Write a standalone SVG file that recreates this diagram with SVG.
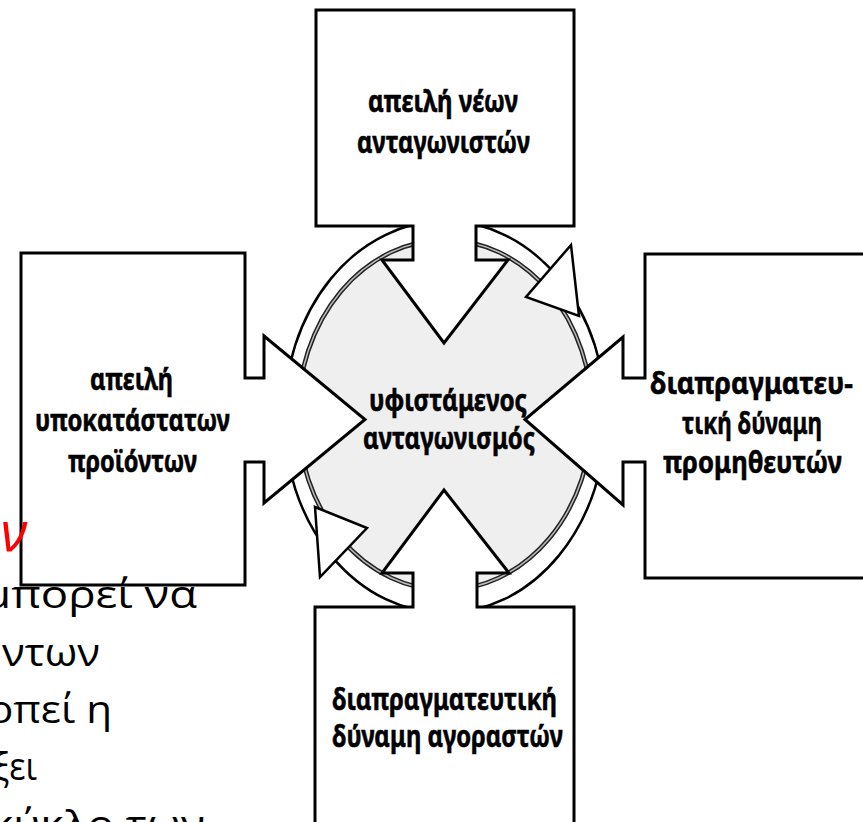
<svg xmlns="http://www.w3.org/2000/svg" width="863" height="822" viewBox="0 0 863 822">
<style>
.box{fill:#fff;stroke:#000;stroke-width:3;stroke-linejoin:miter}
.lbl{font-family:"Noto Sans","Open Sans",sans-serif;font-weight:700;font-size:31px;fill:#000;stroke:#000;stroke-width:0.6;text-anchor:middle}
.ring{fill:#fff;stroke:#000;stroke-width:2.5}
.head{fill:#fff;stroke:#000;stroke-width:2.5;stroke-linejoin:miter}
.bg{font-family:"Open Sans","Liberation Sans",sans-serif;font-size:38px;fill:#000;text-anchor:end}
</style>
<rect width="863" height="822" fill="#fff"/>
<g id="ring">
<ellipse class="ring" cx="445" cy="417" rx="161" ry="196"/>
</g>
<g id="center">
<ellipse cx="445" cy="415" rx="147" ry="175" fill="#efefef" stroke="#222" stroke-width="4.5"/>
<ellipse cx="445" cy="415" rx="147" ry="175" fill="none" stroke="#bbb" stroke-width="1.5"/>
<text class="lbl" x="448" y="411" textLength="158" lengthAdjust="spacingAndGlyphs">υφιστάμενος</text>
<text class="lbl" x="449" y="449" textLength="172" lengthAdjust="spacingAndGlyphs">ανταγωνισμός</text>
</g>
<g id="connectors">
<polygon class="head" points="571,245 526,297 579,316"/>
<polygon class="head" points="315,507 367,528 320,577"/>
</g>
<g id="top">
<polygon class="box" points="316,10 574,10 574,226 476,226 476,260 508,260 444,343 382,260 413,260 413,226 316,226"/>
<text class="lbl" x="443" y="112" textLength="150" lengthAdjust="spacingAndGlyphs">απειλή νέων</text>
<text class="lbl" x="443.5" y="153" textLength="173" lengthAdjust="spacingAndGlyphs">ανταγωνιστών</text>
</g>
<g id="left">
<polygon class="box" points="21,253 245,253 245,378 264,378 264,336 365,419.5 264,503 264,462 245,462 245,585 21,585"/>
<text class="lbl" x="131.5" y="390" textLength="83" lengthAdjust="spacingAndGlyphs">απειλή</text>
<text class="lbl" x="132.5" y="431" textLength="195" lengthAdjust="spacingAndGlyphs">υποκατάστατων</text>
<text class="lbl" x="132.5" y="472" textLength="129" lengthAdjust="spacingAndGlyphs">προϊόντων</text>
</g>
<g id="right">
<polygon class="box" points="645,254 870,254 870,578 645,578 645,462 623,462 623,505 525,419.5 623,337 623,378 645,378"/>
<text class="lbl" x="751.5" y="394" textLength="203" lengthAdjust="spacingAndGlyphs">διαπραγματευ-</text>
<text class="lbl" x="752" y="434" textLength="140" lengthAdjust="spacingAndGlyphs">τική δύναμη</text>
<text class="lbl" x="752.5" y="473" textLength="179" lengthAdjust="spacingAndGlyphs">προμηθευτών</text>
</g>
<g id="bottom">
<polygon class="box" points="315,607 413,607 413,573 382,573 444,490 509,573 477,573 477,607 574,607 574,830 315,830"/>
<text class="lbl" x="444.5" y="710" textLength="225" lengthAdjust="spacingAndGlyphs">διαπραγματευτική</text>
<text class="lbl" x="447.5" y="747" textLength="231" lengthAdjust="spacingAndGlyphs">δύναμη αγοραστών</text>
</g>
<g id="slide-text">
<text x="27" y="552" font-family="Open Sans, Liberation Sans, sans-serif" font-style="italic" font-size="54" fill="#ff0000" text-anchor="end">ων</text>
<text class="bg" x="197" y="608" textLength="214" lengthAdjust="spacingAndGlyphs">μπορεί να</text>
<text class="bg" x="100" y="666" textLength="98" lengthAdjust="spacingAndGlyphs">ντων</text>
<text class="bg" x="112" y="723" textLength="124" lengthAdjust="spacingAndGlyphs">οπεί η</text>
<text class="bg" x="37" y="780" textLength="44" lengthAdjust="spacingAndGlyphs">ξει</text>
<text class="bg" x="205" y="838" textLength="215" lengthAdjust="spacingAndGlyphs">κύκλο των</text>
</g>
</svg>
